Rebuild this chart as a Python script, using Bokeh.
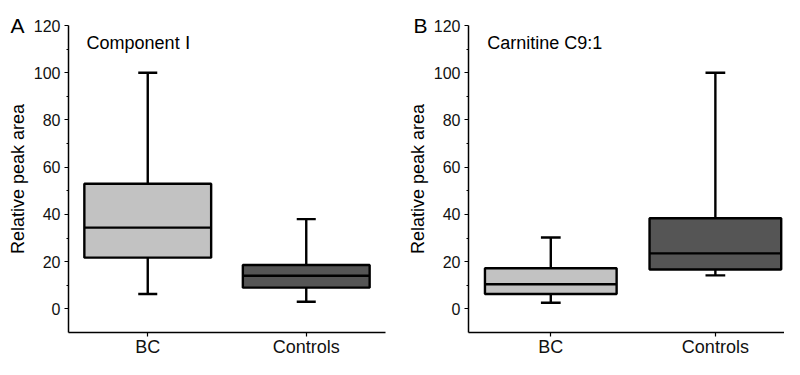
from bokeh.plotting import figure
from bokeh.layouts import row
from bokeh.models import Range1d, FixedTicker, Label, ColumnDataSource, Title
from bokeh.embed import file_html
from bokeh.resources import INLINE

# ---- data ----
categories = ["BC", "Controls"]
cat_pos = [1, 2]
box_colors = ["#c2c2c2", "#555555"]

# Panel A: Component I
a_min = [6.3, 3.0]
a_q1 = [21.7, 9.0]
a_med = [34.4, 14.0]
a_q3 = [53.0, 18.6]
a_max = [100.0, 38.0]

# Panel B: Carnitine C9:1
b_min = [2.6, 14.2]
b_q1 = [6.3, 16.7]
b_med = [10.4, 23.5]
b_q3 = [17.2, 38.4]
b_max = [30.2, 100.0]

y_ticks = [0, 20, 40, 60, 80, 100, 120]
y_minor = [10, 30, 50, 70, 90, 110]

FONT = "Liberation Sans"
BOX_W = 0.8
CAP_W = 0.12


def make_panel(letter, title, mins, q1, med, q3, maxs, x_end, left, right, letter_off):
    p = figure(width=392, height=359, output_backend="svg", toolbar_location=None,
               x_range=Range1d(0.5, x_end), y_range=Range1d(-10, 120),
               min_border_left=left, min_border_right=right,
               min_border_top=25, min_border_bottom=22)
    p.outline_line_color = None
    p.xgrid.grid_line_color = None
    p.ygrid.grid_line_color = None
    p.background_fill_color = "white"
    p.border_fill_color = "white"

    src = ColumnDataSource(dict(
        x=cat_pos, mn=mins, q1=q1, med=med, q3=q3, mx=maxs, color=box_colors,
        xl=[c - BOX_W / 2 for c in cat_pos], xr=[c + BOX_W / 2 for c in cat_pos],
        cl=[c - CAP_W / 2 for c in cat_pos], cr=[c + CAP_W / 2 for c in cat_pos],
    ))
    p.segment(x0="x", y0="q3", x1="x", y1="mx", source=src, line_color="black", line_width=2.4)
    p.segment(x0="x", y0="q1", x1="x", y1="mn", source=src, line_color="black", line_width=2.4)
    p.segment(x0="cl", y0="mx", x1="cr", y1="mx", source=src, line_color="black", line_width=2.4)
    p.segment(x0="cl", y0="mn", x1="cr", y1="mn", source=src, line_color="black", line_width=2.4)
    p.vbar(x="x", width=BOX_W, bottom="q1", top="q3", source=src, fill_color="color",
           line_color="black", line_width=2.4)
    p.segment(x0="xl", y0="med", x1="xr", y1="med", source=src, line_color="black", line_width=2.4)

    p.yaxis.ticker = FixedTicker(ticks=y_ticks, minor_ticks=y_minor)
    p.yaxis.axis_label = "Relative peak area"
    p.yaxis.axis_label_text_font = FONT
    p.yaxis.axis_label_text_font_size = "18px"
    p.yaxis.axis_label_text_font_style = "normal"
    p.yaxis.axis_label_text_color = "black"
    p.yaxis.axis_label_standoff = 3
    p.yaxis.major_label_text_font = FONT
    p.yaxis.major_label_text_font_size = "16px"
    p.yaxis.major_label_text_color = "#111111"
    p.yaxis.major_label_standoff = 4
    p.yaxis.major_tick_out = 4
    p.yaxis.major_tick_in = 0
    p.yaxis.minor_tick_out = 2
    p.yaxis.minor_tick_in = 0
    p.yaxis.axis_line_width = 1.5
    p.yaxis.major_tick_line_width = 1.2
    p.yaxis.minor_tick_line_width = 1.2

    p.xaxis.ticker = FixedTicker(ticks=cat_pos, minor_ticks=[])
    p.xaxis.major_label_overrides = {c: n for c, n in zip(cat_pos, categories)}
    p.xaxis.major_label_text_font = FONT
    p.xaxis.major_label_text_font_size = "18px"
    p.xaxis.major_label_text_color = "#111111"
    p.xaxis.major_label_standoff = 0
    p.xaxis.axis_label_standoff = 0
    p.xaxis.major_tick_out = 4
    p.xaxis.major_tick_in = 0
    p.xaxis.minor_tick_line_color = None
    p.xaxis.axis_line_width = 1.5
    p.xaxis.major_tick_line_width = 1.2

    p.add_layout(Label(x=0.614, y=112.5, text=title, text_font=FONT, text_font_size="18px",
                       text_baseline="middle", text_color="black"))
    p.add_layout(Title(text=letter, align="left", offset=letter_off, text_font=FONT,
                       text_font_size="21px", text_font_style="normal", text_color="black",
                       standoff=-22), "above")
    return p


pa = make_panel("A", "Component \u2160", a_min, a_q1, a_med, a_q3, a_max, 2.5, 68, 7, -58)
pb = make_panel("B", "Carnitine C9:1", b_min, b_q1, b_med, b_q3, b_max, 2.42, 76, 0, -55)

layout = row(pa, pb)
open("out.html", "w").write(file_html(layout, INLINE))
